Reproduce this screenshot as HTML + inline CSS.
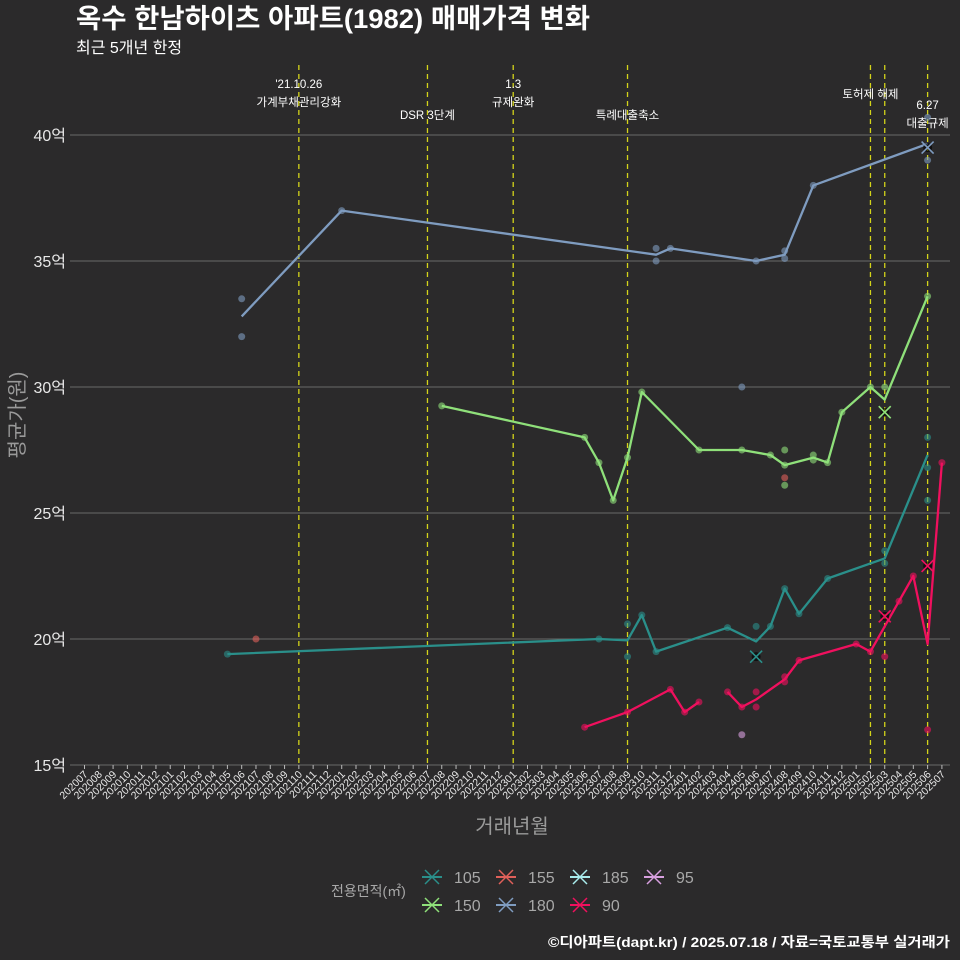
<!DOCTYPE html>
<html><head><meta charset="utf-8">
<style>
html,body{margin:0;padding:0;background:#2b2a2b;}
svg{display:block;font-family:"Liberation Sans","Noto Sans CJK KR",sans-serif;}
</style></head>
<body>
<svg id="chart" width="960" height="960" viewBox="0 0 960 960" xmlns="http://www.w3.org/2000/svg">
<rect width="960" height="960" fill="#2b2a2b"/>
<text x="76" y="28" fill="#ffffff" font-size="27" font-weight="bold" textLength="514" lengthAdjust="spacingAndGlyphs">옥수 한남하이츠 아파트(1982) 매매가격 변화</text>
<text x="76" y="53" fill="#ffffff" font-size="16">최근 5개년 한정</text>
<g id="grid"></g>
<g id="events"></g>
<g id="series"></g>
<g id="xaxis"></g>
<g id="yaxis"></g>
<text x="512" y="833" fill="#9a9a9a" font-size="20" text-anchor="middle">거래년월</text>
<text transform="translate(24,415) rotate(-90)" fill="#9a9a9a" font-size="20" text-anchor="middle">평균가(원)</text>
<g id="legend">
<text x="331" y="896" fill="#a8a8a8" font-size="14">전용면적(㎡)</text>
</g>
<text x="950" y="947" fill="#ffffff" font-size="14" font-weight="bold" text-anchor="end" textLength="402" lengthAdjust="spacingAndGlyphs">©디아파트(dapt.kr) / 2025.07.18 / 자료=국토교통부 실거래가</text>
</svg>
<script>
// ---- data ----
const months = [];
for (let y = 2020; y <= 2025; y++) for (let m = 1; m <= 12; m++) {
  if ((y === 2020 && m < 7) || (y === 2025 && m > 7)) continue;
  months.push(String(y) + String(m).padStart(2, '0'));
}
const yTicks = [15, 20, 25, 30, 35, 40];
const yTickLabels = ['15억', '20억', '25억', '30억', '35억', '40억'];
const eventMonths = ['202110', '202207', '202301', '202309', '202502', '202503', '202506'];
const eventLabels = [
  {m:'202110', lines:["'21.10.26","가계부채관리강화"], y:88},
  {m:'202207', lines:["DSR 3단계"], y:119},
  {m:'202301', lines:["1.3","규제완화"], y:88},
  {m:'202309', lines:["특례대출축소"], y:119},
  {m:'202502', lines:["토허제 해제"], y:98},
  {m:'202506', lines:["6.27","대출규제"], y:109}
];
const seriesNames = ['105', '155', '185', '95', '150', '180', '90'];
const seriesColors = {'105':'#2a8f8a','155':'#e0605a','185':'#a8ecec','95':'#d8a0e0','150':'#8fe07a','180':'#7f9cc0','90':'#f0105e'};
// line (average) values
const line105M = ['202105','202307','202309','202310','202311','202404','202406','202407','202408','202409','202411','202503','202506'];
const line105V = [19.4,20.0,19.95,20.95,19.5,20.45,19.9,20.5,22.0,21.0,22.4,23.2,27.3];
const line150M = ['202208','202306','202307','202308','202309','202310','202402','202405','202407','202408','202410','202411','202412','202502','202503','202506'];
const line150V = [29.25,28.0,27.0,25.5,27.2,29.8,27.5,27.5,27.3,26.9,27.2,27.0,29.0,30.0,29.5,33.6];
const line180M = ['202106','202201','202311','202312','202406','202408','202410','202506'];
const line180V = [32.8,37.0,35.25,35.5,35.0,35.25,38.0,39.65];
const line90M = ['202306','202309','202312','202401','202402','202403','202404','202405','202406','202408','202409','202501','202502','202503','202504','202505','202506','202507'];
const line90V = [16.5,17.1,18.0,17.1,17.5,null,17.9,17.3,17.6,18.4,19.15,19.8,19.5,20.5,21.5,22.5,19.8,27.0];
// individual trades (points)
const pts105M = ['202105','202307','202309','202309','202310','202311','202404','202406','202407','202408','202409','202411','202503','202503','202506','202506','202506'];
const pts105V = [19.4,20.0,20.6,19.3,20.95,19.5,20.45,20.5,20.5,22.0,21.0,22.4,23.5,23.0,28.0,26.8,25.5];
const pts150M = ['202208','202306','202307','202308','202309','202310','202402','202405','202407','202408','202408','202408','202410','202410','202411','202412','202502','202503','202506'];
const pts150V = [29.25,28.0,27.0,25.5,27.2,29.8,27.5,27.5,27.3,27.5,26.9,26.1,27.3,27.1,27.0,29.0,30.0,30.0,33.6];
const pts180M = ['202106','202106','202201','202311','202311','202312','202405','202406','202408','202408','202410','202506','202506'];
const pts180V = [33.5,32.0,37.0,35.5,35.0,35.5,30.0,35.0,35.4,35.1,38.0,40.7,39.0];
const pts90M = ['202306','202309','202312','202401','202402','202404','202405','202406','202406','202408','202408','202409','202501','202502','202503','202504','202505','202506','202507'];
const pts90V = [16.5,17.1,18.0,17.1,17.5,17.9,17.3,17.9,17.3,18.5,18.3,19.15,19.8,19.5,19.3,21.5,22.5,16.4,27.0];
const pts155M = ['202107','202408'];
const pts155V = [20.0,26.4];
const pts95M = ['202405'];
const pts95V = [16.2];
// cross markers
const crossSeries = ['105','150','90','90','180'];
const crossM = ['202406','202503','202503','202506','202506'];
const crossV = [19.3,29.0,20.9,22.9,39.5];

// ---- scales ----
const X0 = 84.5, XSTEP = 14.29;
function xOf(m){ return X0 + months.indexOf(m) * XSTEP; }
function yOf(v){ return 765 - (v - 15) * 25.2; }
const NS = 'http://www.w3.org/2000/svg';
function mk(tag, attrs, parent){
  const e = document.createElementNS(NS, tag);
  for (const k in attrs) e.setAttribute(k, attrs[k]);
  parent.appendChild(e);
  return e;
}
const grid = document.getElementById('grid');
const yaxis = document.getElementById('yaxis');
yTicks.forEach((t, i) => {
  const l = mk('line', {x1:70, x2:950, y1:yOf(t), y2:yOf(t), stroke:'#6a6a6a', 'stroke-width':1}, grid);
  
  
  const tx = mk('text', {x:66, y:yOf(t)+6, fill:'#e8e8e8', 'font-size':16, 'text-anchor':'end'}, yaxis);
  tx.textContent = yTickLabels[i];
  
  
});
const xaxis = document.getElementById('xaxis');
months.forEach(m => {
  const x = xOf(m);
  const t = mk('line', {x1:x, x2:x, y1:765, y2:769, stroke:'#bbbbbb', 'stroke-width':1}, xaxis);
  
  
  const tx = mk('text', {transform:`translate(${x+4},${775}) rotate(-45)`, fill:'#e8e8e8', 'font-size':10.5, 'text-anchor':'end'}, xaxis);
  tx.textContent = m;
  
  
});
const ev = document.getElementById('events');
eventMonths.forEach(m => {
  const l = mk('line', {x1:xOf(m), x2:xOf(m), y1:65, y2:765, stroke:'#d4d41a', 'stroke-width':1.3, 'stroke-dasharray':'5,4'}, ev);
  
  
});
eventLabels.forEach(e => {
  e.lines.forEach((s, j) => {
    const tx = mk('text', {x:xOf(e.m), y:e.y + j*18, fill:'#ffffff', 'font-size':11.5, 'text-anchor':'middle'}, ev);
    tx.textContent = s;
    
    
  });
});
const sg = document.getElementById('series');
function drawPoints(ms, vs, name){
  ms.forEach((m, i) => {
    const c = mk('circle', {cx:xOf(m), cy:yOf(vs[i]), r:3.5, fill:seriesColors[name], 'fill-opacity':0.6}, sg);
    
    
  });
}
function drawLine(ms, vs, name){
  let d = '', pen = false;
  ms.forEach((m, i) => {
    if (vs[i] === null) { pen = false; return; }
    d += (pen ? 'L' : 'M') + xOf(m).toFixed(1) + ',' + yOf(vs[i]).toFixed(1);
    pen = true;
  });
  const p = mk('path', {d:d, fill:'none', stroke:seriesColors[name], 'stroke-width':2.3, 'stroke-linejoin':'round'}, sg);
  
  
}
drawPoints(pts155M, pts155V, '155');
drawPoints(pts95M, pts95V, '95');
drawPoints(pts180M, pts180V, '180');
drawPoints(pts150M, pts150V, '150');
drawPoints(pts105M, pts105V, '105');
drawPoints(pts90M, pts90V, '90');
drawLine(line180M, line180V, '180');
drawLine(line150M, line150V, '150');
drawLine(line105M, line105V, '105');
drawLine(line90M, line90V, '90');
crossSeries.forEach((s, i) => {
  const x = xOf(crossM[i]), y = yOf(crossV[i]), r = 6;
  const bg = mk('circle', {cx:x, cy:y, r:4.5, fill:'#000000', 'fill-opacity':0.6}, sg);
  
  
  const p = mk('path', {d:`M${x-r},${y-r}L${x+r},${y+r}M${x-r},${y+r}L${x+r},${y-r}`, stroke:seriesColors[s], 'stroke-width':1.6}, sg);
  
  
});
// legend
const lg = document.getElementById('legend');
const legRows = [['105','155','185','95'],['150','180','90']];
legRows.forEach((row, ri) => {
  row.forEach((name, ci) => {
    const cx = 432 + ci*74, cy = 877 + ri*28;
    const g = mk('g', {}, lg);
    
    
    const c = seriesColors[name];
    mk('line', {x1:cx-10, x2:cx+10, y1:cy, y2:cy, stroke:c, 'stroke-width':2}, g);
    mk('path', {d:`M${cx-7},${cy-7}L${cx+7},${cy+7}M${cx-7},${cy+7}L${cx+7},${cy-7}`, stroke:c, 'stroke-width':1.5}, g);
    const t = mk('text', {x:cx+22, y:cy+6, fill:'#a8a8a8', 'font-size':16}, g);
    t.textContent = name;
  });
});
</script>
</body></html>
